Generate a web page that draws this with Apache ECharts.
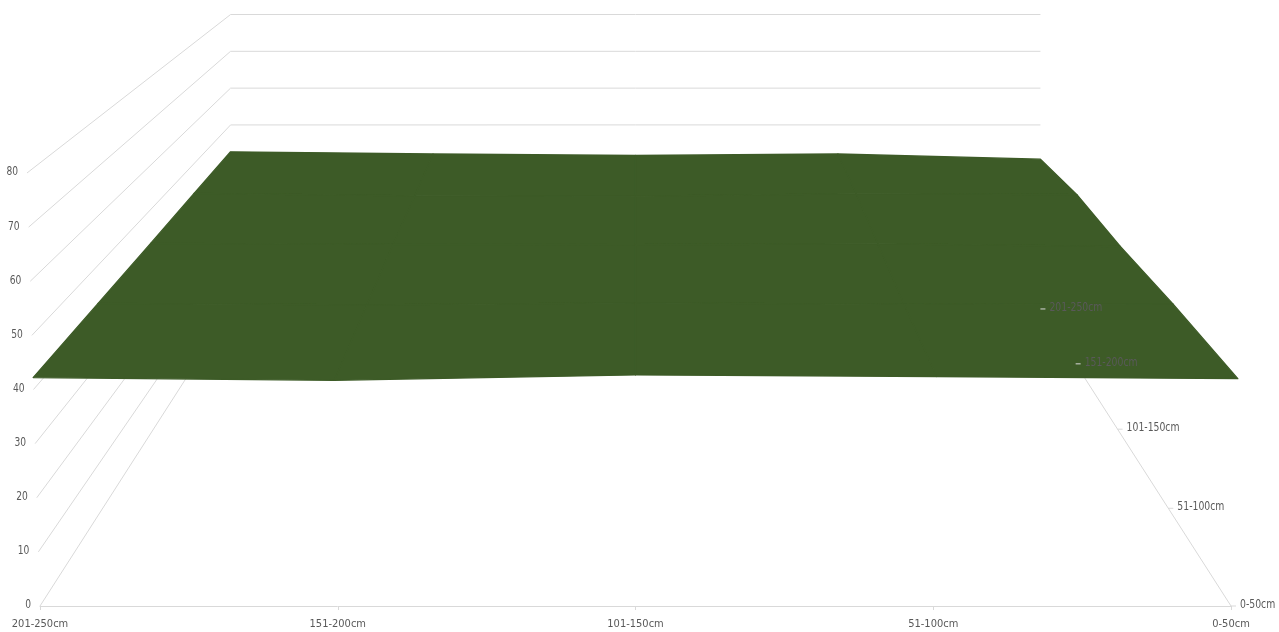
<!DOCTYPE html>
<html>
<head>
<meta charset="utf-8">
<title>Surface</title>
<script src="https://cdn.jsdelivr.net/npm/echarts@6/dist/echarts.min.js"></script>
<style>
  html, body { margin: 0; padding: 0; background: #fff; }
  #chart { width: 1279px; height: 632px; }
</style>
</head>
<body>
<div id="chart"></div>
<script>
// categories along the front edge (left to right)
const categories = ['201-250cm', '151-200cm', '101-150cm', '51-100cm', '0-50cm'];
// series along the depth axis (front to back)
const seriesNames = ['0-50cm', '51-100cm', '101-150cm', '151-200cm', '201-250cm'];

const row0to50 = [42.2, 41.7, 42.7, 42.4, 42.0];
const row51to100 = [42.3, 42.0, 42.4, 42.1, 42.2];
const row101to150 = [42.4, 42.2, 42.1, 42.3, 41.7];
const row151to200 = [42.6, 42.0, 41.9, 42.5, 42.3];
const row201to250 = [42.7, 42.1, 41.7, 42.1, 40.7];
const rows = [row0to50, row51to100, row101to150, row151to200, row201to250];

const valueTicks = [0, 10, 20, 30, 40, 50, 60, 70, 80];

// simple perspective: depth shrinks toward a vanishing point (in axis units)
const VP_U = 2;
const VP_V = 171.5;
const DEPTH_K = 0.4706;
const SLANT = 0.000273;
const GRID_COLOR = '#d9d9d9';
const LABEL_COLOR = '#595959';
const SURFACE_COLOR = '#3d5b27';
const FONT = "'DejaVu Sans Condensed', 'Liberation Sans Narrow', sans-serif";

const project = (u, t, v) => {
  const s = 1 / (1 + DEPTH_K * t);
  const slant = 1 + SLANT * v * (1 - t);
  return [VP_U + (u - VP_U) * slant * s, VP_V + (v - VP_V) * s];
};

const last = categories.length - 1;
const depthOf = (j) => j / (seriesNames.length - 1);

const chart = echarts.init(document.getElementById('chart'));

const cells = [];
for (let j = seriesNames.length - 2; j >= 0; j--) {
  for (let i = 0; i < last; i++) cells.push([i, j]);
}

const option = {
  animation: false,
  grid: { left: 40, right: 48, top: 173, bottom: 26 },
  xAxis: {
    type: 'value',
    min: 0,
    max: last,
    interval: 1,
    axisLine: { lineStyle: { color: GRID_COLOR, width: 1 } },
    axisTick: { length: 4, lineStyle: { color: GRID_COLOR } },
    splitLine: { show: false },
    axisLabel: {
      color: LABEL_COLOR,
      fontFamily: FONT,
      fontSize: 11,
      margin: 13,
      formatter: (val) => categories[val] || '',
    },
  },
  yAxis: { type: 'value', min: 0, max: 80, show: false },
  series: [
    {
      // left and back wall gridlines
      type: 'custom',
      z: 1,
      silent: true,
      data: valueTicks.map((v) => [v]),
      renderItem: (params, api) => {
        const v = api.value(0);
        return {
          type: 'polyline',
          shape: {
            points: [
              api.coord(project(0, 0, v)),
              api.coord(project(0, 1, v)),
              api.coord(project(last, 1, v)),
            ],
          },
          style: { stroke: GRID_COLOR, lineWidth: 1, fill: null },
        };
      },
    },
    {
      // depth (series) axis line
      type: 'custom',
      z: 1,
      silent: true,
      data: [[0]],
      renderItem: (params, api) => {
        const a = api.coord(project(last, 0, 0));
        const b = api.coord(project(last, 1, 0));
        return {
          type: 'line',
          shape: { x1: a[0], y1: a[1], x2: b[0], y2: b[1] },
          style: { stroke: GRID_COLOR, lineWidth: 1 },
        };
      },
    },
    {
      // surface cells
      type: 'custom',
      z: 2,
      silent: true,
      data: cells,
      renderItem: (params, api) => {
        const i = api.value(0);
        const j = api.value(1);
        const pts = [
          api.coord(project(i, depthOf(j), rows[j][i])),
          api.coord(project(i + 1, depthOf(j), rows[j][i + 1])),
          api.coord(project(i + 1, depthOf(j + 1), rows[j + 1][i + 1])),
          api.coord(project(i, depthOf(j + 1), rows[j + 1][i])),
        ];
        return {
          type: 'polygon',
          shape: { points: pts },
          style: { fill: SURFACE_COLOR, stroke: SURFACE_COLOR, lineWidth: 1.3, lineJoin: 'round' },
        };
      },
    },
    {
      // value labels along the front-left edge
      type: 'custom',
      z: 3,
      silent: true,
      data: valueTicks.map((v) => [v]),
      renderItem: (params, api) => {
        const v = api.value(0);
        const p = api.coord(project(0, 0, v));
        return {
          type: 'text',
          x: p[0] - 9,
          y: p[1] - 1,
          scaleX: 0.78,
          style: {
            text: String(v),
            fill: LABEL_COLOR,
            fontFamily: FONT,
            fontSize: 13,
            align: 'right',
            verticalAlign: 'middle',
          },
        };
      },
    },
    {
      // depth axis ticks and labels
      type: 'custom',
      z: 3,
      silent: true,
      data: seriesNames.map((name, j) => [j]),
      renderItem: (params, api) => {
        const j = api.value(0);
        const p = api.coord(project(last, depthOf(j), 0));
        return {
          type: 'group',
          children: [
            {
              type: 'line',
              shape: { x1: p[0], y1: p[1], x2: p[0] + 5, y2: p[1] },
              style: { stroke: GRID_COLOR, lineWidth: 1 },
            },
            {
              type: 'text',
              x: p[0] + 9,
              y: p[1] - 1,
              scaleX: 0.86,
              style: {
                text: seriesNames[j],
                fill: LABEL_COLOR,
                fontFamily: FONT,
                fontSize: 12,
                align: 'left',
                verticalAlign: 'middle',
              },
            },
          ],
        };
      },
    },
  ],
};

chart.setOption(option);
window.addEventListener('resize', () => chart.resize());
</script>
</body>
</html>
